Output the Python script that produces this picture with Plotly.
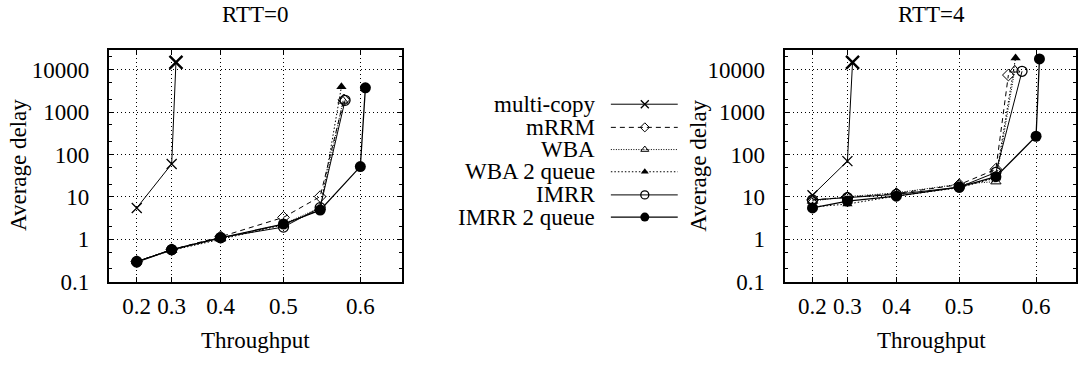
import plotly.graph_objects as go

W, H = 1078, 370
FONT = "Liberation Serif, Times New Roman, serif"
FS = 23

# ---------------- data ----------------
SERIES = ["multi-copy", "mRRM", "WBA", "WBA 2 queue", "IMRR", "IMRR 2 queue"]
X_TICKS = [0.2, 0.3, 0.4, 0.5, 0.6]
Y_TICKS = [0.1, 1, 10, 100, 1000, 10000]
Y_TICK_LABELS = ["0.1", "1", "10", "100", "1000", "10000"]
TITLES = ["RTT=0", "RTT=4"]

# RTT=0
rtt0_multicopy_x = [0.2, 0.3, 0.31]
rtt0_multicopy_y = [5.5, 60, 15000]
rtt0_mrrm_x = [0.2, 0.3, 0.4, 0.5, 0.55, 0.58]
rtt0_mrrm_y = [0.3, 0.57, 1.15, 3.3, 10.2, 1950]
rtt0_wba_x = [0.2, 0.3, 0.4, 0.5, 0.55, 0.579]
rtt0_wba_y = [0.3, 0.56, 1.05, 2.3, 5.6, 1850]
rtt0_wba2_x = [0.2, 0.3, 0.4, 0.5, 0.55, 0.577]
rtt0_wba2_y = [0.3, 0.55, 1.0, 2.2, 5.0, 3950]
rtt0_imrr_x = [0.2, 0.3, 0.4, 0.5, 0.55, 0.5815]
rtt0_imrr_y = [0.3, 0.57, 1.1, 1.95, 5.6, 1900]
rtt0_imrr2_x = [0.2, 0.3, 0.4, 0.5, 0.55, 0.6, 0.606]
rtt0_imrr2_y = [0.29, 0.57, 1.08, 2.3, 4.9, 52, 3750]

# RTT=4
rtt4_multicopy_x = [0.2, 0.3, 0.312]
rtt4_multicopy_y = [11, 70, 15000]
rtt4_mrrm_x = [0.2, 0.3, 0.4, 0.5, 0.55, 0.566]
rtt4_mrrm_y = [8.5, 9.8, 12, 19.5, 45, 7500]
rtt4_wba_x = [0.2, 0.3, 0.4, 0.5, 0.55, 0.574]
rtt4_wba_y = [8.0, 10.2, 12.5, 20, 23, 10000]
rtt4_wba2_x = [0.2, 0.3, 0.4, 0.5, 0.55, 0.575]
rtt4_wba2_y = [5.8, 6.8, 10.5, 16.5, 28, 19000]
rtt4_imrr_x = [0.2, 0.3, 0.4, 0.5, 0.55, 0.583]
rtt4_imrr_y = [8.5, 9.6, 11.5, 17, 38, 9200]
rtt4_imrr2_x = [0.2, 0.3, 0.4, 0.5, 0.55, 0.6, 0.604]
rtt4_imrr2_y = [5.5, 8.0, 10.4, 17, 30, 270, 18000]

PANELS = [
    [(rtt0_multicopy_x, rtt0_multicopy_y), (rtt0_mrrm_x, rtt0_mrrm_y),
     (rtt0_wba_x, rtt0_wba_y), (rtt0_wba2_x, rtt0_wba2_y),
     (rtt0_imrr_x, rtt0_imrr_y), (rtt0_imrr2_x, rtt0_imrr2_y)],
    [(rtt4_multicopy_x, rtt4_multicopy_y), (rtt4_mrrm_x, rtt4_mrrm_y),
     (rtt4_wba_x, rtt4_wba_y), (rtt4_wba2_x, rtt4_wba2_y),
     (rtt4_imrr_x, rtt4_imrr_y), (rtt4_imrr2_x, rtt4_imrr2_y)],
]

# ---------------- styles ----------------
STYLE = {
    "multi-copy":   dict(dash="solid", width=1.0, symbol="x-thin-open", size=10, lw=1.3),
    "mRRM":         dict(dash="5px,4px", width=1.0, symbol="diamond-open", size=9, lw=1.0),
    "WBA":          dict(dash="1px,1.5px", width=1.0, symbol="triangle-up-open", size=9, lw=1.0),
    "WBA 2 queue":  dict(dash="1.5px,2px", width=1.0, symbol="triangle-up", size=9, lw=0),
    "IMRR":         dict(dash="solid", width=1.0, symbol="circle-open", size=10, lw=1.3),
    "IMRR 2 queue": dict(dash="solid", width=1.3, symbol="circle", size=11, lw=0),
}


def sq(v):
    # the x axis is drawn on a squared throughput scale
    return [t * t for t in v]


def px(x):
    return x / W


def py(y):
    return 1 - y / H


fig = go.Figure()

axis_ids = [("x", "y"), ("x2", "y2")]
for p, panel in enumerate(PANELS):
    xa, ya = axis_ids[p]
    for name, (xs, ys) in zip(SERIES, panel):
        st = STYLE[name]
        size, lw = st["size"], st["lw"]
        if name == "multi-copy":
            # the saturated point is drawn bolder
            size = [st["size"]] * (len(xs) - 1) + [13]
            lw = [st["lw"]] * (len(xs) - 1) + [2.4]
        fig.add_trace(go.Scatter(
            x=sq(xs), y=ys, xaxis=xa, yaxis=ya, mode="lines+markers",
            name=name, showlegend=False, opacity=1,
            line=dict(color="black", width=st["width"], dash=st["dash"]),
            marker=dict(symbol=st["symbol"], size=size, color="black", opacity=1,
                        line=dict(color="black", width=lw)),
        ))

# ---------------- legend (drawn manually: text left, sample right) ----------------
LEG_ROWS = [108, 132, 155, 178, 202, 225]
for name, ry in zip(SERIES, LEG_ROWS):
    st = STYLE[name]
    fig.add_trace(go.Scatter(
        x=[612, 679], y=[ry, ry], xaxis="x3", yaxis="y3", mode="lines",
        showlegend=False, hoverinfo="skip",
        line=dict(color="black", width=st["width"], dash=st["dash"])))
    fig.add_trace(go.Scatter(
        x=[646], y=[ry], xaxis="x3", yaxis="y3", mode="markers",
        showlegend=False, hoverinfo="skip",
        marker=dict(symbol=st["symbol"], size=st["size"] - 2, color="black",
                    line=dict(color="black", width=st["lw"]))))
    fig.add_annotation(x=px(598), y=py(ry), xref="paper", yref="paper",
                       text=name, showarrow=False, xanchor="right", yanchor="middle",
                       font=dict(family=FONT, size=FS, color="black"))

# ---------------- axes ----------------
PLOT_TOP, PLOT_BOT = 52, 292
ydom = [py(PLOT_BOT), py(PLOT_TOP)]
XSCALE = 700.0  # px per unit of squared throughput
left_dom = (109, 403)
right_dom = (786, W)
minor_y = [d * m for d in Y_TICKS for m in (2, 5)]

common_x = dict(
    tickmode="array", tickvals=sq(X_TICKS), ticktext=[f"{t:g}" for t in X_TICKS],
    ticks="inside", ticklen=5, tickwidth=1, tickcolor="black",
    showline=True, linewidth=2, linecolor="black", mirror="ticks",
    showgrid=True, gridcolor="black", gridwidth=1, griddash="1px,3px",
    zeroline=False, ticklabelstandoff=3,
    tickfont=dict(family=FONT, size=FS, color="black"),
)
common_y = dict(
    type="log", range=[-1, 4.462],
    tickmode="array", tickvals=Y_TICKS, ticktext=Y_TICK_LABELS,
    ticks="inside", ticklen=5, tickwidth=1, tickcolor="black",
    minor=dict(ticks="inside", ticklen=3, tickcolor="black", tickmode="array",
               tickvals=minor_y, showgrid=False),
    showline=True, linewidth=2, linecolor="black", mirror="ticks",
    showgrid=True, gridcolor="black", gridwidth=1, griddash="1px,3px",
    zeroline=False, ticklabelstandoff=13,
    tickfont=dict(family=FONT, size=FS, color="black"),
)

fig.update_layout(
    width=W, height=H, margin=dict(l=0, r=0, t=0, b=0),
    paper_bgcolor="white", plot_bgcolor="rgba(0,0,0,0)",
    font=dict(family=FONT, size=FS, color="black"),
    showlegend=False,
    xaxis=dict(domain=[px(left_dom[0]), px(left_dom[1])],
               range=[0, (left_dom[1] - left_dom[0]) / XSCALE], anchor="y", **common_x),
    yaxis=dict(domain=ydom, anchor="x", **common_y),
    xaxis2=dict(domain=[px(right_dom[0]), 1.0],
                range=[0, (right_dom[1] - right_dom[0]) / XSCALE], anchor="y2", **common_x),
    yaxis2=dict(domain=ydom, anchor="x2", **common_y),
    xaxis3=dict(domain=[0, 1], range=[0, W], visible=False, anchor="y3", fixedrange=True),
    yaxis3=dict(domain=[0, 1], range=[H, 0], visible=False, anchor="x3", fixedrange=True),
)

# titles and axis labels
for cx, title in zip([256, 933], TITLES):
    fig.add_annotation(x=px(cx), y=py(15), xref="paper", yref="paper", text=title,
                       showarrow=False, xanchor="center", yanchor="middle",
                       font=dict(family=FONT, size=FS, color="black"))
    fig.add_annotation(x=px(cx), y=py(353), xref="paper", yref="paper", text="Throughput",
                       showarrow=False, xanchor="center", yanchor="middle",
                       font=dict(family=FONT, size=FS, color="black"))
for cx, cy in [(19, 171), (700, 172)]:
    fig.add_annotation(x=px(cx), y=py(cy), xref="paper", yref="paper", text="Average delay",
                       showarrow=False, textangle=-90, xanchor="center", yanchor="middle",
                       font=dict(family=FONT, size=FS, color="black"))

fig.write_html("out.html")
